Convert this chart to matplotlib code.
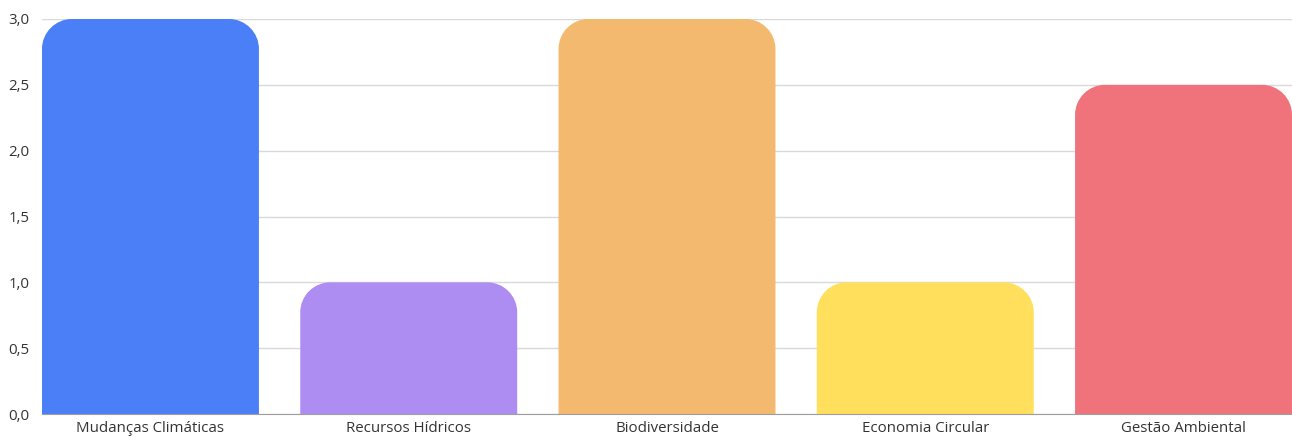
import matplotlib.pyplot as plt
from matplotlib.path import Path
from matplotlib.patches import PathPatch

categories = ["Mudanças Climáticas", "Recursos Hídricos", "Biodiversidade",
              "Economia Circular", "Gestão Ambiental"]
values = [3.0, 1.0, 3.0, 1.0, 2.5]
colors = ["#4a7ff7", "#ae8df3", "#f2b96f", "#ffdf5c", "#f0737b"]
yticks = [0.0, 0.5, 1.0, 1.5, 2.0, 2.5, 3.0]

plt.rcParams['font.family'] = ['Open Sans', 'DejaVu Sans']

W, H = 1292, 437
fig = plt.figure(figsize=(W / 100, H / 100), dpi=100)
left, right, top, bottom = 42, 1292, 19, 414
ax = fig.add_axes([left / W, (H - bottom) / H, (right - left) / W, (bottom - top) / H])

width = 0.84
ax.set_xlim(-width / 2, len(categories) - 1 + width / 2)
ax.set_ylim(0, 3.0)

# corner radius ~30 px, converted to data units
px_per_x = (right - left) / (len(categories) - 1 + width)
px_per_y = (bottom - top) / 3.0
rx = 30 / px_per_x
ry = 30 / px_per_y
k = 0.5523  # bezier circle constant


def top_rounded_bar(x0, w, h):
    x1 = x0 + w
    verts = [
        (x0, 0), (x0, h - ry),
        (x0, h - ry + k * ry), (x0 + rx - k * rx, h), (x0 + rx, h),
        (x1 - rx, h),
        (x1 - rx + k * rx, h), (x1, h - ry + k * ry), (x1, h - ry),
        (x1, 0), (x0, 0),
    ]
    codes = [Path.MOVETO, Path.LINETO,
             Path.CURVE4, Path.CURVE4, Path.CURVE4,
             Path.LINETO,
             Path.CURVE4, Path.CURVE4, Path.CURVE4,
             Path.LINETO, Path.CLOSEPOLY]
    return Path(verts, codes)


for i, (v, c) in enumerate(zip(values, colors)):
    ax.add_patch(PathPatch(top_rounded_bar(i - width / 2, width, v),
                           fc=c, ec="none", zorder=3))

ax.set_yticks(yticks)
ax.set_yticklabels([f"{t:.1f}".replace(".", ",") for t in yticks])
ax.set_xticks(range(len(categories)))
ax.set_xticklabels(categories)
ax.tick_params(length=0, labelsize=10.8, labelcolor="#333333")
ax.tick_params(axis="y", pad=9)
ax.tick_params(axis="x", pad=5)

ax.grid(axis="y", color="#d9d9d9", linewidth=1, zorder=0)
ax.set_axisbelow(True)
for s in ["top", "right", "left"]:
    ax.spines[s].set_visible(False)
ax.spines["bottom"].set_color("#9e9e9e")
ax.spines["bottom"].set_zorder(4)

fig.savefig("out.png", dpi=100)
